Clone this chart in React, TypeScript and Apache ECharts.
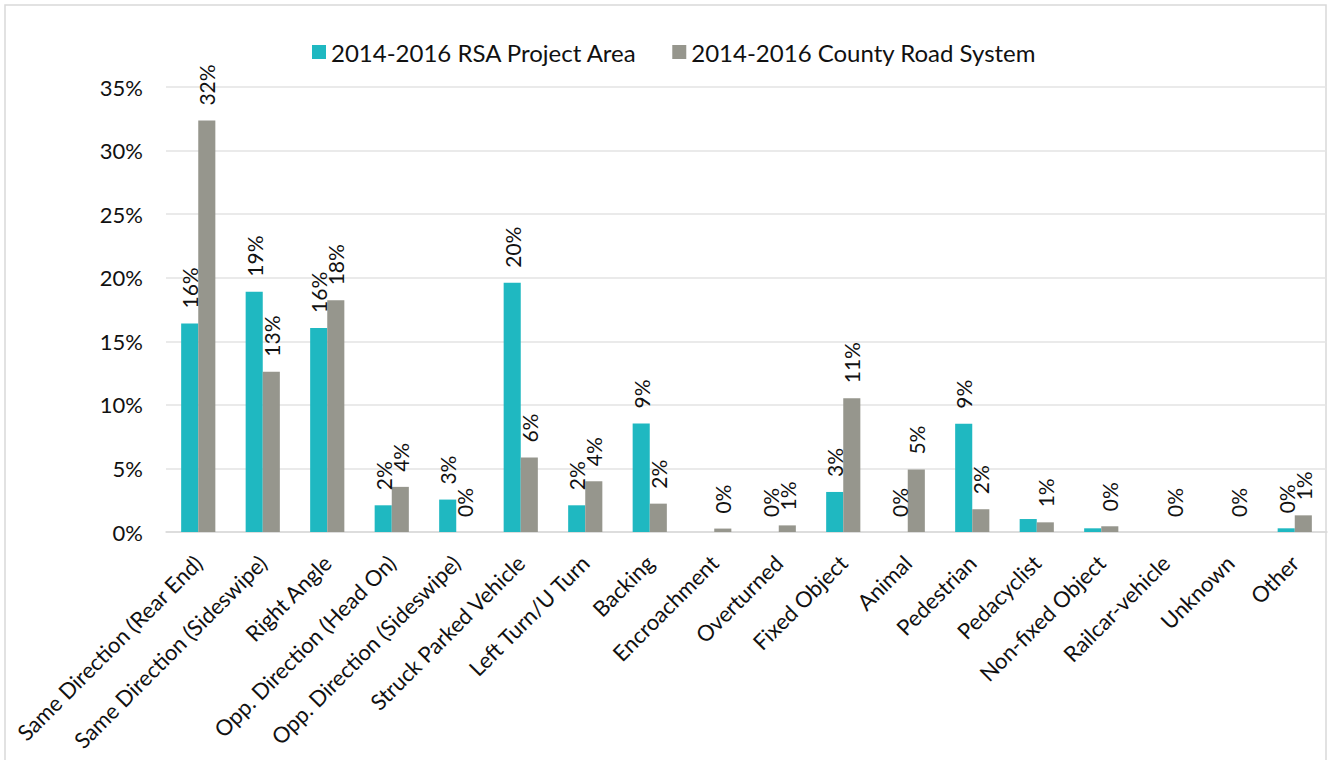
import React, { useEffect, useRef } from "react";
import * as echarts from "echarts";

const categories = [
  "Same Direction (Rear End)",
  "Same Direction (Sideswipe)",
  "Right Angle",
  "Opp. Direction (Head On)",
  "Opp. Direction (Sideswipe)",
  "Struck Parked Vehicle",
  "Left Turn/U Turn",
  "Backing",
  "Encroachment",
  "Overturned",
  "Fixed Object",
  "Animal",
  "Pedestrian",
  "Pedacyclist",
  "Non-fixed Object",
  "Railcar-vehicle",
  "Unknown",
  "Other",
];

const rsaProjectArea = [16.4, 18.9, 16.05, 2.1, 2.55, 19.6, 2.1, 8.53, 0, 0, 3.15, 0, 8.52, 1.02, 0.29, 0, 0, 0.29];
const countyRoadSystem = [32.36, 12.61, 18.22, 3.55, 0, 5.85, 3.99, 2.23, 0.27, 0.52, 10.52, 4.91, 1.79, 0.76, 0.45, 0, 0, 1.31];

// which data labels are shown for the RSA series (some are absent in the original)
const rsaLabelShown = [true, true, true, true, true, true, true, true, false, true, true, true, true, false, false, false, false, true];

const seriesNames = ["2014-2016 RSA Project Area", "2014-2016 County Road System"];
const yTicks = { min: 0, max: 35, interval: 5 };

const FONT = "Lato";
const TEAL = "#1FB8C1";
const GRAY = "#96968D";

export default function App() {
  const ref = useRef<HTMLDivElement>(null);

  useEffect(() => {
    if (!ref.current) return;
    const chart = echarts.init(ref.current, null, { renderer: "svg" });

    const labelBase = {
      show: true,
      position: "top" as const,
      rotate: 90,
      align: "left" as const,
      verticalAlign: "middle" as const,
      distance: 15,
      fontFamily: FONT,
      fontSize: 21,
      color: "#111",
      formatter: (p: any) => Math.round(p.value) + "%",
    };

    chart.setOption({
      animation: false,
      backgroundColor: "#fff",
      textStyle: { fontFamily: FONT },
      graphic: [
        {
          type: "rect",
          shape: { x: 5, y: 5, width: 1321, height: 800 },
          style: { fill: "none", stroke: "#d9d9d9", lineWidth: 1.5 },
          silent: true,
        },
      ],
      legend: {
        top: 35,
        left: 307,
        itemWidth: 14,
        itemHeight: 14,
        itemGap: 35,
        icon: "rect",
        textStyle: { fontFamily: FONT, fontSize: 24, color: "#111" },
        data: seriesNames,
      },
      grid: { left: 166, right: 1, top: 87, bottom: 228, containLabel: false },
      xAxis: {
        type: "category",
        data: categories,
        axisLine: { show: true, lineStyle: { color: "#d9d9d9", width: 1.5 } },
        axisTick: { show: false },
        axisLabel: {
          interval: 0,
          rotate: 45,
          margin: 27,
          fontFamily: FONT,
          fontSize: 22,
          color: "#111",
        },
      },
      yAxis: {
        type: "value",
        min: yTicks.min,
        max: yTicks.max,
        interval: yTicks.interval,
        axisLine: { show: false },
        axisTick: { show: false },
        splitLine: { lineStyle: { color: "#e3e3e3", width: 1.5 } },
        axisLabel: {
          margin: 23,
          fontFamily: FONT,
          fontSize: 22,
          color: "#111",
          formatter: (v: number) => v + "%",
        },
      },
      series: [
        {
          name: seriesNames[0],
          type: "bar",
          data: rsaProjectArea.map((v, i) => ({
            value: v,
            label: { show: rsaLabelShown[i] },
          })),
          itemStyle: { color: TEAL },
          barGap: "0%",
          barCategoryGap: "47%",
          label: labelBase,
        },
        {
          name: seriesNames[1],
          type: "bar",
          data: countyRoadSystem,
          itemStyle: { color: GRAY },
          barGap: "0%",
          barCategoryGap: "47%",
          label: labelBase,
        },
      ],
    });

    return () => chart.dispose();
  }, []);

  return (
    <div
      ref={ref}
      style={{ position: "absolute", left: 0, top: 0, width: 1328, height: 760 }}
    />
  );
}
